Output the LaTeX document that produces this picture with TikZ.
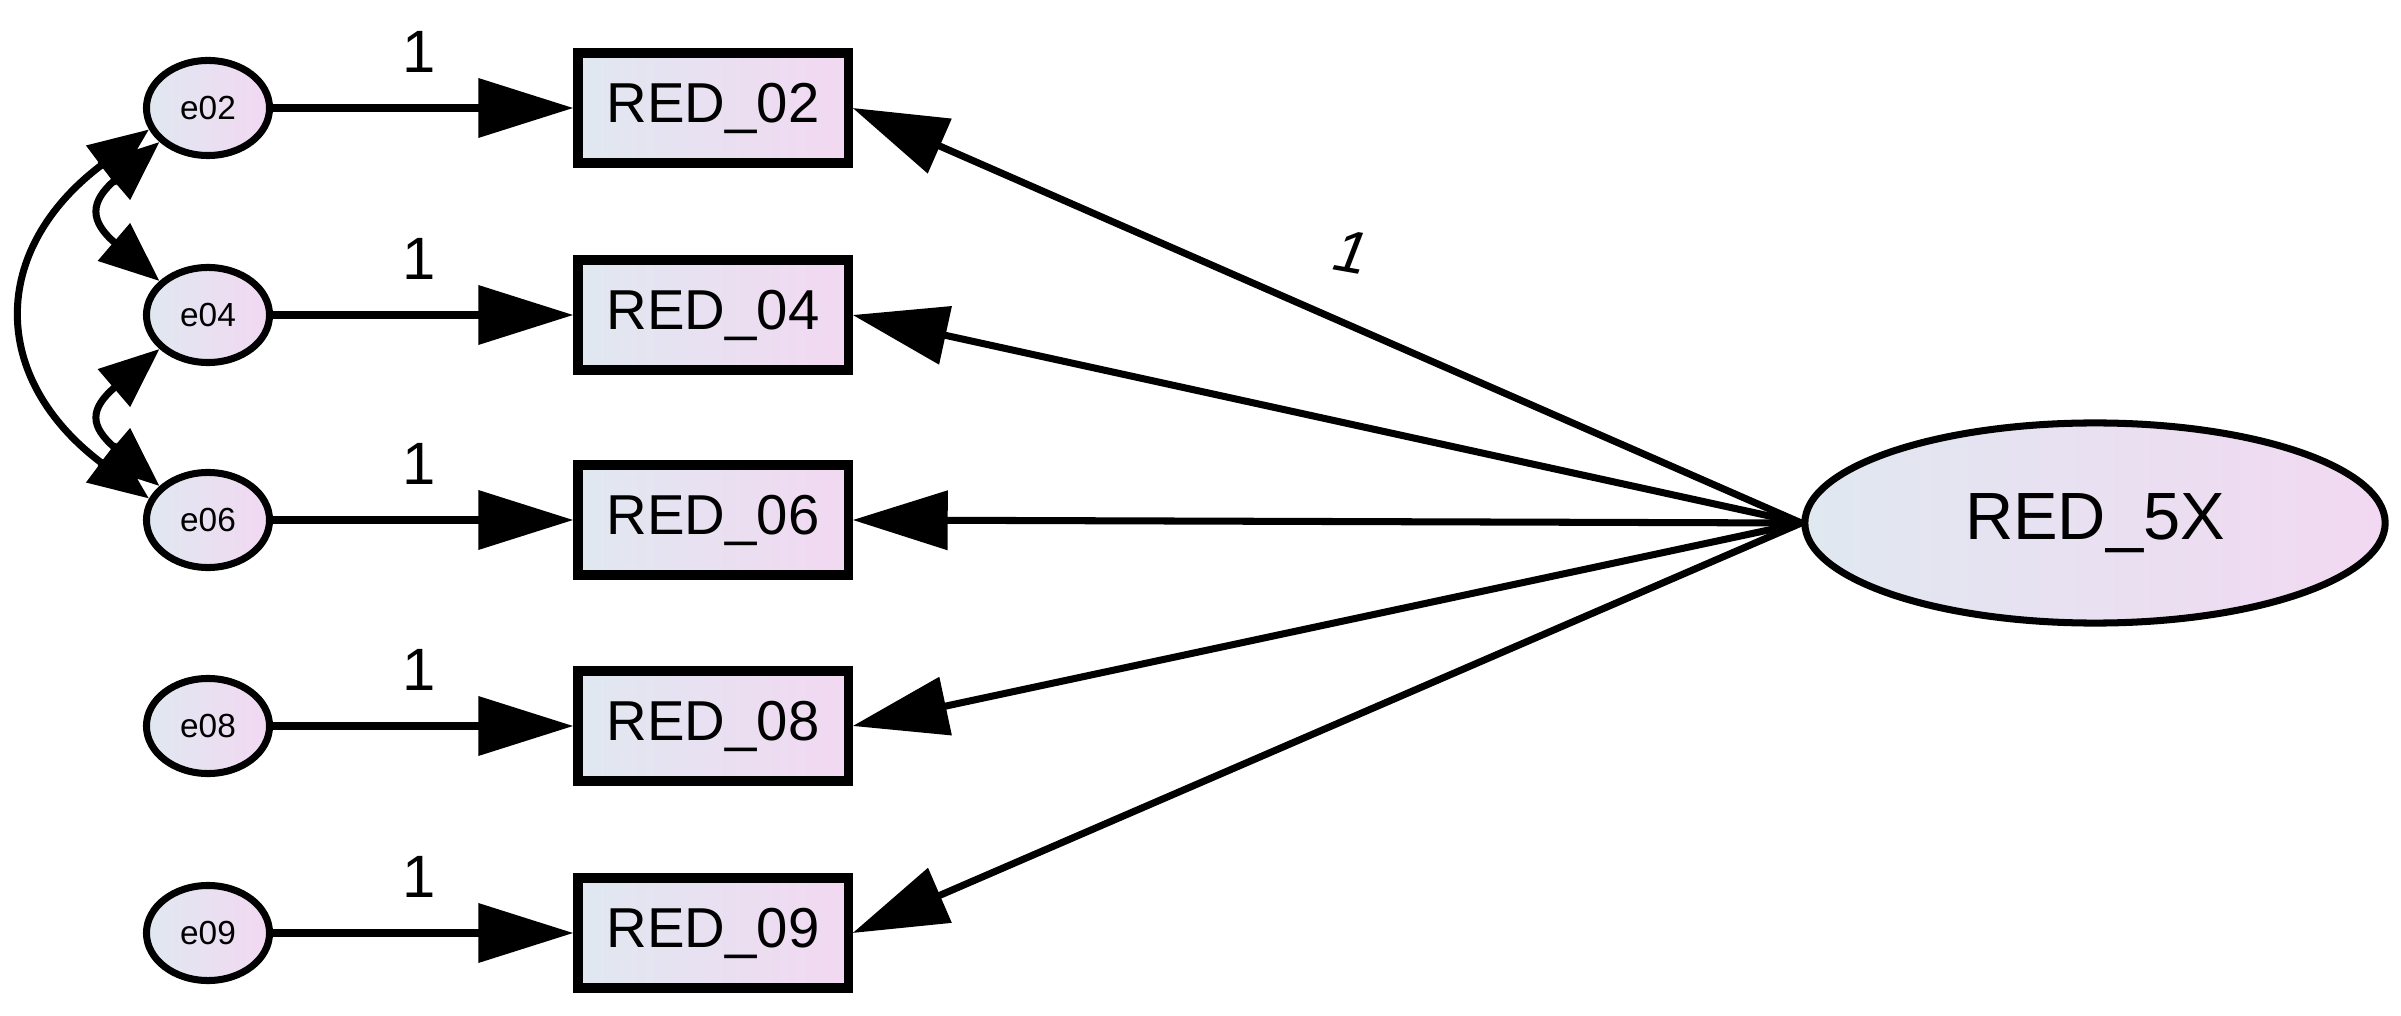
\documentclass[tikz,border=0pt]{standalone}
\usepackage{fontspec}
\setmainfont{Liberation Sans}
\usetikzlibrary{arrows.meta,shapes.geometric}
\definecolor{gl}{HTML}{E0E8F0}
\definecolor{gr}{HTML}{F2D8F2}
\begin{document}
\begin{tikzpicture}[x=0.01cm,y=-0.01cm,
  tip/.style={-{Triangle[length=0.95cm,width=0.58cm]}},
  dtip/.style={{Triangle[length=0.6cm,width=0.48cm]}-{Triangle[length=0.6cm,width=0.48cm]}},
  conn/.style={line width=2pt},
  err/.style={ellipse,draw,line width=2pt,minimum width=1.23cm,minimum height=0.95cm,inner sep=0pt,left color=gl,right color=gr,font=\fontsize{9.5pt}{10pt}\selectfont},
  obs/.style={rectangle,draw,line width=2.6pt,minimum width=2.7cm,minimum height=1.1cm,inner sep=0pt,left color=gl,right color=gr,font=\fontsize{16pt}{18pt}\selectfont},
  lat/.style={ellipse,draw,line width=2pt,minimum width=5.8cm,minimum height=2cm,inner sep=0pt,left color=gl,right color=gr,font=\fontsize{19pt}{21pt}\selectfont},
  lbl/.style={font=\fontsize{17pt}{19pt}\selectfont}]
\useasboundingbox (0,0) rectangle (2401,1016);
\node[lat] (F) at (2095,523) {RED\_5X};
\foreach \n/\y in {02/108,04/315,06/520,08/726,09/933}{
  \node[err] (e\n) at (208,\y) {e\n};
  \node[obs] (r\n) at (713,\y) {RED\_\n};
  \draw[conn,tip] (e\n) -- (r\n);
  \node[lbl] (l\n) at (419,\y-56) {1};
  \draw[conn,tip] (F.west) -- (r\n.east);
}
\node[lbl,rotate=-10] (l1) at (1351,252) {\textit{1}};
\draw[conn,dtip] (e02.215) .. controls +(-70,60) and +(-70,-60) .. (e04.145);
\draw[conn,dtip] (e04.215) .. controls +(-70,60) and +(-70,-60) .. (e06.145);
\draw[conn,dtip] (e02.200) .. controls +(-160,120) and +(-160,-120) .. (e06.160);
\end{tikzpicture}
\end{document}
